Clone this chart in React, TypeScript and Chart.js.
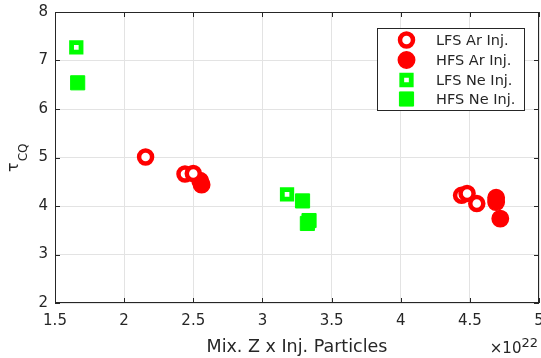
import React, { useEffect, useRef } from 'react';
import { Chart, registerables } from 'chart.js';

Chart.register(...registerables);

// ---- data ----
const seriesLabels = ['LFS Ar Inj.', 'HFS Ar Inj.', 'LFS Ne Inj.', 'HFS Ne Inj.'];
const lfsArX = [2.155, 2.44, 2.5, 4.44, 4.48, 4.55];
const lfsArY = [5.01, 4.66, 4.67, 4.22, 4.26, 4.05];
const hfsArX = [2.55, 2.56, 4.69, 4.69, 4.72];
const hfsArY = [4.52, 4.44, 4.17, 4.08, 3.74];
const lfsNeX = [1.654, 3.178];
const lfsNeY = [7.27, 4.24];
const hfsNeX = [1.664, 3.29, 3.337, 3.325];
const hfsNeY = [6.54, 4.105, 3.7, 3.64];

const xMin = 1.5, xMax = 5, xStep = 0.5;
const yMin = 2, yMax = 8, yStep = 1;
const xAxisTitle = 'Mix. Z x Inj. Particles';
const yAxisTitleMain = 'τ';
const yAxisTitleSub = 'CQ';
const xExponentBase = '×10';
const xExponentPow = '22';

const RED = '#ff0000';
const GREEN = '#00ff00';
const AXIS = '#262626';
const FONT = '"DejaVu Sans", sans-serif';

const toPts = (xs: number[], ys: number[]) => xs.map((x, i) => ({ x, y: ys[i] }));

const markerStyles = [
  { pointStyle: 'circle', radius: 6.5, borderWidth: 4.5, borderColor: RED, backgroundColor: '#ffffff' },
  { pointStyle: 'circle', radius: 8.2, borderWidth: 1.5, borderColor: RED, backgroundColor: RED },
  { pointStyle: 'rect', radius: 6.7, borderWidth: 4.8, borderColor: GREEN, backgroundColor: '#ffffff' },
  { pointStyle: 'rect', radius: 10, borderWidth: 1, borderColor: GREEN, backgroundColor: GREEN },
];

function drawMarker(ctx: CanvasRenderingContext2D, idx: number, x: number, y: number) {
  const m = markerStyles[idx];
  ctx.save();
  ctx.fillStyle = m.backgroundColor;
  ctx.strokeStyle = m.borderColor;
  ctx.lineWidth = m.borderWidth;
  ctx.beginPath();
  if (m.pointStyle === 'circle') {
    ctx.arc(x, y, m.radius, 0, Math.PI * 2);
  } else {
    const s = Math.SQRT1_2 * m.radius;
    ctx.rect(x - s, y - s, 2 * s, 2 * s);
  }
  ctx.fill();
  ctx.stroke();
  ctx.restore();
}

const decorPlugin = {
  id: 'decor',
  afterDraw(chart: any) {
    const ctx: CanvasRenderingContext2D = chart.ctx;
    const { left, right, top, bottom } = chart.chartArea;
    const xs = chart.scales.x;
    const ys = chart.scales.y;
    ctx.save();
    // frame
    ctx.strokeStyle = AXIS;
    ctx.lineWidth = 1;
    ctx.strokeRect(left + 0.5, top + 0.5, right - left - 1, bottom - top - 1);
    // inward ticks
    const tl = 5;
    ctx.beginPath();
    xs.ticks.forEach((t: any) => {
      const px = Math.round(xs.getPixelForValue(t.value)) + 0.5;
      ctx.moveTo(px, bottom);
      ctx.lineTo(px, bottom - tl);
      ctx.moveTo(px, top);
      ctx.lineTo(px, top + tl);
    });
    ys.ticks.forEach((t: any) => {
      const py = Math.round(ys.getPixelForValue(t.value)) + 0.5;
      ctx.moveTo(left, py);
      ctx.lineTo(left + tl, py);
      ctx.moveTo(right, py);
      ctx.lineTo(right - tl, py);
    });
    ctx.stroke();

    // x axis title
    ctx.fillStyle = AXIS;
    ctx.font = `17.5px ${FONT}`;
    ctx.textAlign = 'center';
    ctx.textBaseline = 'alphabetic';
    ctx.fillText(xAxisTitle, 297, 352);

    // exponent
    ctx.textAlign = 'right';
    ctx.font = `13px ${FONT}`;
    const powW = ctx.measureText(xExponentPow).width;
    ctx.fillText(xExponentPow, 538, 347);
    ctx.font = `15px ${FONT}`;
    ctx.fillText(xExponentBase, 538 - powW, 353);

    // y axis title (rotated, with subscript)
    ctx.save();
    ctx.translate(18, 172);
    ctx.rotate(-Math.PI / 2);
    ctx.textAlign = 'left';
    ctx.font = `16px ${FONT}`;
    ctx.fillText(yAxisTitleMain, 0, 0);
    const tw = ctx.measureText(yAxisTitleMain).width;
    ctx.font = `12px ${FONT}`;
    ctx.fillText(yAxisTitleSub, tw + 1, 9);
    ctx.restore();

    // legend
    const lx = 377, ly = 28, lw = 147, lh = 82;
    ctx.fillStyle = '#ffffff';
    ctx.fillRect(lx, ly, lw, lh);
    ctx.strokeStyle = AXIS;
    ctx.lineWidth = 1;
    ctx.strokeRect(lx + 0.5, ly + 0.5, lw, lh);
    const rows = [40, 60, 80, 99];
    seriesLabels.forEach((lab, i) => {
      drawMarker(ctx, i, 406.5, rows[i]);
      ctx.fillStyle = AXIS;
      ctx.font = `14.5px ${FONT}`;
      ctx.textAlign = 'left';
      ctx.textBaseline = 'middle';
      ctx.fillText(lab, 436, rows[i] + 1);
    });
    ctx.restore();
  },
};

const fmt = (v: any) => String(Number(v));
const zeroPad = () => ({ left: 0, top: 0, right: 0, bottom: 0 });

export default function App() {
  const ref = useRef<HTMLCanvasElement | null>(null);
  useEffect(() => {
    if (!ref.current) return;
    const series = [toPts(lfsArX, lfsArY), toPts(hfsArX, hfsArY), toPts(lfsNeX, lfsNeY), toPts(hfsNeX, hfsNeY)];
    const chart = new Chart(ref.current, {
      type: 'scatter',
      data: {
        datasets: series.map((data, i) => ({
          label: seriesLabels[i],
          data,
          pointStyle: markerStyles[i].pointStyle as any,
          pointRadius: markerStyles[i].radius,
          pointBorderWidth: markerStyles[i].borderWidth,
          pointBorderColor: markerStyles[i].borderColor,
          pointBackgroundColor: markerStyles[i].backgroundColor,
          pointHoverRadius: markerStyles[i].radius,
        })),
      },
      options: {
        responsive: false,
        animation: false,
        devicePixelRatio: 1,
        layout: { autoPadding: false, padding: { top: 12, right: 2, left: 0, bottom: 0 } },
        plugins: { legend: { display: false }, tooltip: { enabled: false }, title: { display: false } },
        scales: {
          x: {
            type: 'linear',
            min: xMin,
            max: xMax,
            afterFit: (s: any) => {
              s.height = 55; s.paddingLeft = 0; s.paddingRight = 0;
              s.getPadding = zeroPad;
            },
            ticks: { stepSize: xStep, color: AXIS, font: { size: 15, family: FONT }, padding: 9, maxRotation: 0, callback: fmt },
            grid: { color: '#e3e3e3', drawTicks: false },
            border: { display: false },
          },
          y: {
            type: 'linear',
            min: yMin,
            max: yMax,
            afterFit: (s: any) => {
              s.width = 55; s.paddingTop = 0; s.paddingBottom = 0;
              s.getPadding = zeroPad;
            },
            ticks: { stepSize: yStep, color: AXIS, font: { size: 15, family: FONT }, padding: 7, callback: fmt },
            grid: { color: '#e3e3e3', drawTicks: false },
            border: { display: false },
          },
        },
      },
      plugins: [decorPlugin],
    });
    return () => chart.destroy();
  }, []);
  return (
    <div style={{ position: 'fixed', left: 0, top: 0, width: 541, height: 358, background: '#fff' }}>
      <canvas ref={ref} width={541} height={358} />
    </div>
  );
}
